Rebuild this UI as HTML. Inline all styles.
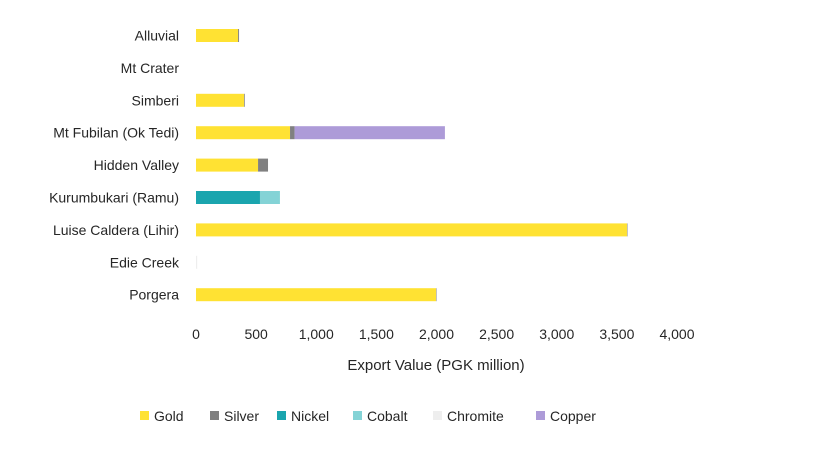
<!DOCTYPE html>
<html><head><meta charset="utf-8"><style>
body{margin:0;background:#fff;font-family:"Liberation Sans",sans-serif;}
svg text{font-family:"Liberation Sans",sans-serif;fill:#262626;}
</style></head><body>
<svg id="chart" width="814" height="454" viewBox="0 0 814 454"></svg>
<script>
const categories=["Alluvial","Mt Crater","Simberi","Mt Fubilan (Ok Tedi)","Hidden Valley","Kurumbukari (Ramu)","Luise Caldera (Lihir)","Edie Creek","Porgera"];
const seriesNames=["Gold","Silver","Nickel","Cobalt","Chromite","Copper"];
const seriesColors=["#FFE233","#808080","#1AA5AE","#84D3D6","#EEEEEE","#AD9BD8"];
const gold=[350,0,400,782,516,0,3584,0,1996];
const silver=[8,0,6,38,83,0,4,0,4];
const nickel=[0,0,0,0,0,532,0,0,0];
const cobalt=[0,0,0,0,0,166,0,0,0];
const chromite=[0,0,0,0,0,0,0,10,0];
const copper=[0,0,0,1250,0,0,0,0,0];
const series=[gold,silver,nickel,cobalt,chromite,copper];
const ticks=[0,500,1000,1500,2000,2500,3000,3500,4000];
const tickLabels=["0","500","1,000","1,500","2,000","2,500","3,000","3,500","4,000"];

const svg=document.getElementById('chart');
const NS='http://www.w3.org/2000/svg';
const x0=196,x1=677,vmax=4000;
const xs=v=>x0+(v/vmax)*(x1-x0);
const rowY=i=>35.5+i*32.4;
const barH=13;
function el(t,a){const e=document.createElementNS(NS,t);for(const k in a)e.setAttribute(k,a[k]);svg.appendChild(e);return e;}
categories.forEach((c,i)=>{
  const t=el('text',{x:179,y:rowY(i)+5,'text-anchor':'end','font-size':14});
  t.textContent=c;
  
  
  let acc=0;
  series.forEach((s,j)=>{
    const v=s[i]; if(!v) return;
    const r=el('rect',{x:xs(acc),y:rowY(i)-barH/2,width:xs(acc+v)-xs(acc),height:barH,fill:seriesColors[j]});
    
    
    acc+=v;
  });
});
ticks.forEach((v,i)=>{
  const t=el('text',{x:xs(v),y:339,'text-anchor':'middle','font-size':14});
  t.textContent=tickLabels[i];
  
  
});
const tt=el('text',{x:436,y:370,'text-anchor':'middle','font-size':15});
tt.textContent='Export Value (PGK million)';


const lx=[140,210,277,353,433,536];
seriesNames.forEach((n,j)=>{
  const r=el('rect',{x:lx[j],y:411,width:9,height:9,fill:seriesColors[j]});
  
  
  const t=el('text',{x:lx[j]+14,y:421,'font-size':14});
  t.textContent=n;
  
  
});
</script>
</body></html>
